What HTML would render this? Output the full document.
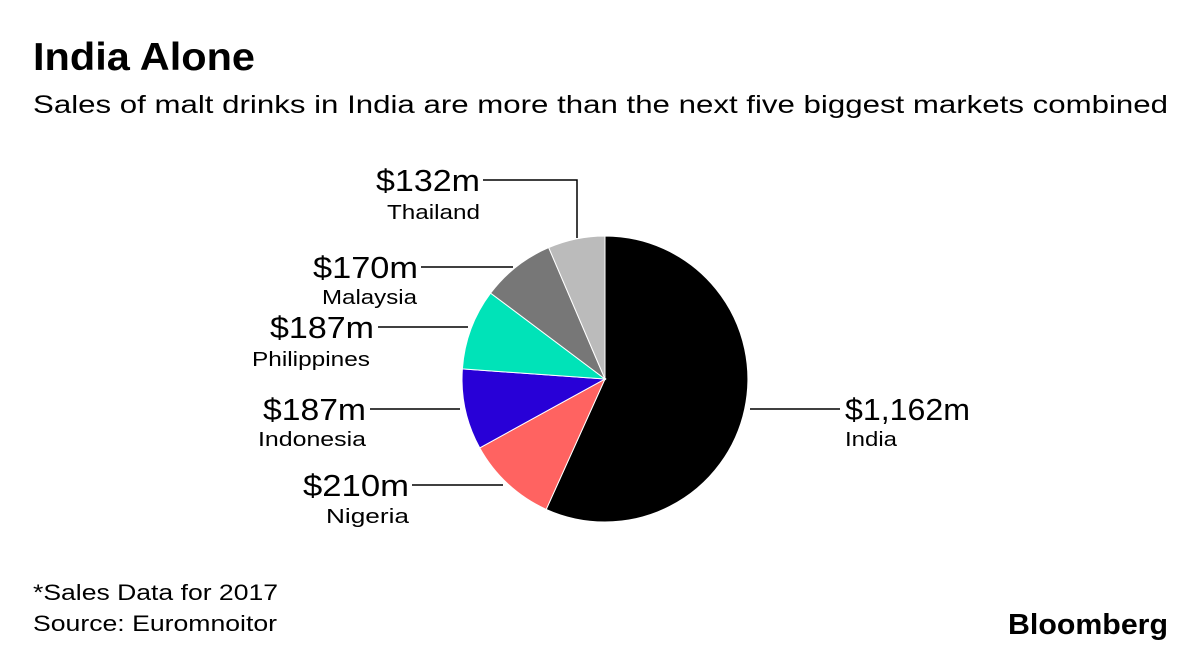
<!DOCTYPE html>
<html><head><meta charset="utf-8"><style>
body{margin:0;background:#fff;}
svg{display:block;font-family:"Liberation Sans",sans-serif;}
</style></head><body>
<svg width="1200" height="655" viewBox="0 0 1200 655">
<text x="33" y="70" font-size="39" font-weight="bold" fill="#000" textLength="222" lengthAdjust="spacingAndGlyphs">India Alone</text>
<text x="33" y="113" font-size="25" fill="#000" textLength="1135" lengthAdjust="spacingAndGlyphs">Sales of malt drinks in India are more than the next five biggest markets combined</text>
<g stroke="#fff" stroke-width="1">
<path d="M605,379 L605,236 A143,143 0 1 1 546.2,509.4 Z" fill="#000"/>
<path d="M605,379 L546.2,509.4 A143,143 0 0 1 479.7,447.9 Z" fill="#ff6361"/>
<path d="M605,379 L479.7,447.9 A143,143 0 0 1 462.4,368.9 Z" fill="#2800d7"/>
<path d="M605,379 L462.4,368.9 A143,143 0 0 1 490.6,293.1 Z" fill="#00e3b8"/>
<path d="M605,379 L490.6,293.1 A143,143 0 0 1 548.7,247.6 Z" fill="#777"/>
<path d="M605,379 L548.7,247.6 A143,143 0 0 1 605,236 Z" fill="#bbb"/>
</g>
<g stroke="#000" stroke-width="1.5" fill="none">
<polyline points="483,180 577,180 577,238"/>
<polyline points="421,267 513,267"/>
<polyline points="378,327 468,327"/>
<polyline points="370,409 460,409"/>
<polyline points="412,485 503,485"/>
<polyline points="750,409 840,409"/>
</g>
<g font-size="31" fill="#000" lengthAdjust="spacingAndGlyphs">
<text x="376" y="191" textLength="104" lengthAdjust="spacingAndGlyphs">$132m</text>
<text x="313" y="278" textLength="105" lengthAdjust="spacingAndGlyphs">$170m</text>
<text x="270" y="338" textLength="104" lengthAdjust="spacingAndGlyphs">$187m</text>
<text x="263" y="420" textLength="103" lengthAdjust="spacingAndGlyphs">$187m</text>
<text x="303" y="496" textLength="106" lengthAdjust="spacingAndGlyphs">$210m</text>
<text x="845" y="420" textLength="125" lengthAdjust="spacingAndGlyphs">$1,162m</text>
</g>
<g font-size="20" fill="#000">
<text x="387" y="219" textLength="93" lengthAdjust="spacingAndGlyphs">Thailand</text>
<text x="322" y="304" textLength="95" lengthAdjust="spacingAndGlyphs">Malaysia</text>
<text x="252" y="366" textLength="118" lengthAdjust="spacingAndGlyphs">Philippines</text>
<text x="258" y="446" textLength="108" lengthAdjust="spacingAndGlyphs">Indonesia</text>
<text x="326" y="523" textLength="83" lengthAdjust="spacingAndGlyphs">Nigeria</text>
<text x="845" y="446" textLength="52" lengthAdjust="spacingAndGlyphs">India</text>
</g>
<text x="33" y="600" font-size="22" fill="#000" textLength="245" lengthAdjust="spacingAndGlyphs">*Sales Data for 2017</text>
<text x="33" y="631" font-size="22" fill="#000" textLength="244" lengthAdjust="spacingAndGlyphs">Source: Euromnoitor</text>
<text x="1008" y="634" font-size="29" font-weight="bold" fill="#000" textLength="160" lengthAdjust="spacingAndGlyphs">Bloomberg</text>
</svg>
</body></html>
